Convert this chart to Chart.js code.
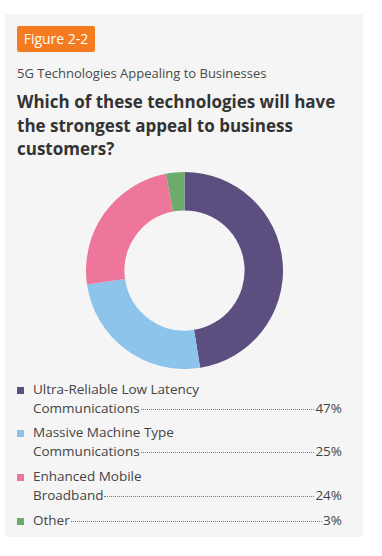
<!DOCTYPE html>
<html><head><meta charset="utf-8">
<script src="https://cdn.jsdelivr.net/npm/chart.js@4"></script>
<style>
html,body{margin:0;padding:0;background:#fff;width:382px;height:556px;overflow:hidden;font-family:"Open Sans",sans-serif;}
#panel{position:absolute;left:5px;top:14px;width:358px;height:523px;background:#f5f5f5;}
#badge{position:absolute;left:17px;top:26px;width:78px;height:26px;background:#f47b20;border-radius:2px;color:#fff;font-size:14px;line-height:26px;text-align:center;}
#sub{position:absolute;left:17px;top:64px;font-size:13px;color:#4a4a4a;white-space:nowrap;}
#title{position:absolute;left:17px;top:90px;width:340px;font-size:17px;font-weight:bold;color:#333;line-height:23.5px;}
#chartbox{position:absolute;left:86px;top:172px;width:197px;height:197px;}
#legend{position:absolute;left:0;top:0;}
.item{position:absolute;left:17px;width:325px;font-size:13.5px;color:#444;}
.sw{position:absolute;left:0;width:7px;height:7px;}
.txt{position:absolute;left:16px;right:0;line-height:18.5px;}
.row{display:flex;align-items:baseline;white-space:nowrap;}
.dots{flex:1;border-bottom:1px dotted #777;margin:0 1px;position:relative;top:-3px;}
</style></head>
<body>
<div id="panel"></div>
<div id="badge">Figure 2-2</div>
<div id="sub">5G Technologies Appealing to Businesses</div>
<div id="title">Which of these technologies will have the strongest appeal to business customers?</div>
<div id="chartbox"><canvas id="c"></canvas></div>
<div id="legend"></div>
<script>
const categories = ["Ultra-Reliable Low Latency Communications","Massive Machine Type Communications","Enhanced Mobile Broadband","Other"];
const labelLines = [["Ultra-Reliable Low Latency","Communications"],["Massive Machine Type","Communications"],["Enhanced Mobile","Broadband"],["Other"]];
const values = [47,25,24,3];
const colors = ["#5c4f80","#8cc4ec","#ee769a","#6cab6b"];
const itemTops = [380,423,467,511];

new Chart(document.getElementById('c'),{
  type:'doughnut',
  data:{labels:categories,datasets:[{data:values,backgroundColor:colors,borderWidth:0}]},
  options:{responsive:true,maintainAspectRatio:false,animation:false,cutout:'61%',
    plugins:{legend:{display:false},tooltip:{enabled:false}},layout:{padding:0}}
});

const lg=document.getElementById('legend');
categories.forEach((c,i)=>{
  const it=document.createElement('div');it.className='item';it.style.top=itemTops[i]+'px';
  const sw=document.createElement('div');sw.className='sw';sw.style.background=colors[i];
  sw.style.top='7px';it.appendChild(sw);
  const t=document.createElement('div');t.className='txt';
  const lines=labelLines[i];
  lines.forEach((ln,j)=>{
    const r=document.createElement('div');r.className='row';
    const s=document.createElement('span');s.textContent=ln;r.appendChild(s);
    if(j===lines.length-1){
      const d=document.createElement('span');d.className='dots';r.appendChild(d);
      const p=document.createElement('span');p.textContent=values[i]+'%';r.appendChild(p);
    }
    t.appendChild(r);
  });
  it.appendChild(t);lg.appendChild(it);
});
</script>
</body></html>
